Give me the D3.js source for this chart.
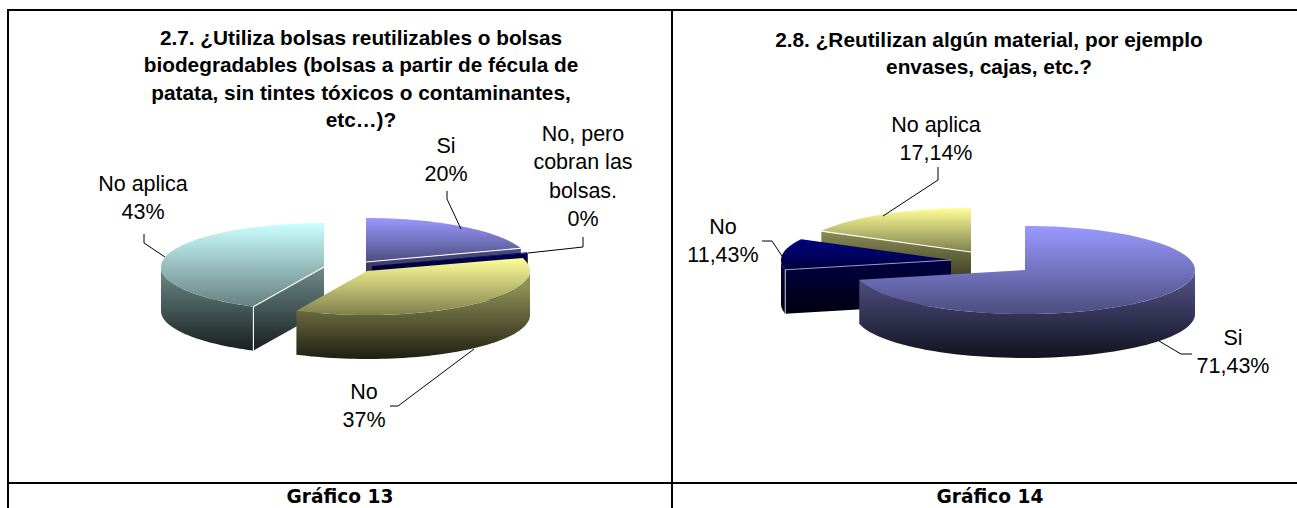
<!DOCTYPE html>
<html><head><meta charset="utf-8">
<script src="https://cdn.jsdelivr.net/npm/d3@7"></script>
<style>html,body{margin:0;padding:0;background:#fff}svg{display:block}</style>
</head><body><svg id="c" width="1297" height="508"></svg>
<script>
// ---- data ----
const categories13 = ["Si", "No, pero cobran las bolsas.", "No", "No aplica"];
const values13 = [20, 0.3, 37, 43];
const displayed13 = ["20%", "0%", "37%", "43%"];
const categories14 = ["Si", "No", "No aplica"];
const values14 = [71.43, 11.43, 17.14];
const displayed14 = ["71,43%", "11,43%", "17,14%"];
const title13 = ["2.7. ¿Utiliza bolsas reutilizables o bolsas","biodegradables (bolsas a partir de fécula de","patata, sin tintes tóxicos o contaminantes,","etc…)?"];
const title14 = ["2.8. ¿Reutilizan algún material, por ejemplo","envases, cajas, etc.?"];
const captions = ["Gráfico 13", "Gráfico 14"];
const colors13 = ["#9999ff", "#000080", "#ffff99", "#ccffff"];
const colors14 = ["#9999ff", "#000080", "#ffff99"];

// ---- layout ----
const svg = d3.select("#c");
const defs = svg.append("defs");
const pie = d3.pie().sort(null).value(d=>d);
let gid = 0;
function grad(color, y0, y1, k0, k1){
  const id = "g"+(gid++);
  const mix = d3.interpolateRgb("#000", color);
  const g = defs.append("linearGradient").attr("id",id).attr("gradientUnits","userSpaceOnUse")
    .attr("x1",0).attr("x2",0).attr("y1",y0).attr("y2",y1);
  g.append("stop").attr("offset",0).attr("stop-color",mix(k0));
  g.append("stop").attr("offset",1).attr("stop-color",mix(k1));
  return `url(#${id})`;
}
function drawPie(values, colors, geom, order){
  const arcs = pie(values);
  const {rx, ry, depth} = geom;
  order.forEach(i=>{
    const a = arcs[i], c = geom.centers[i], col = colors[i];
    const X = t=>c[0]+rx*Math.sin(t), Y = t=>c[1]-ry*Math.cos(t);
    const g = svg.append("g");
    const n=80, facePts=[[c[0],c[1]]].concat(d3.range(n+1).map(k=>{const t=a.startAngle+(a.endAngle-a.startAngle)*k/n;return [X(t),Y(t)];}));
    const minY=d3.min(facePts,d=>d[1]), maxY=d3.max(facePts,d=>d[1]);
    const wallFill = grad(col, minY+(maxY-minY)*0.5, maxY+depth, 0.56, 0.12);
    [[a.startAngle, Math.sin(a.startAngle)<-1e-6],[a.endAngle, Math.sin(a.endAngle)>1e-6]].forEach(([t,vis])=>{
      if(!vis) return;
      const p = d3.path();
      p.moveTo(c[0],c[1]); p.lineTo(X(t),Y(t)); p.lineTo(X(t),Y(t)+depth); p.lineTo(c[0],c[1]+depth); p.closePath();
      g.append("path").attr("d",p.toString()).attr("fill",wallFill);
    });
    const s = Math.max(a.startAngle, Math.PI/2), e = Math.min(a.endAngle, 3*Math.PI/2);
    if(e>s){
      const top=d3.range(61).map(k=>s+(e-s)*k/60);
      const pts=top.map(t=>[X(t),Y(t)]).concat(top.slice().reverse().map(t=>[X(t),Y(t)+depth]));
      g.append("path").attr("d",d3.line()(pts)+"Z").attr("fill",wallFill);
    }
    g.append("path").attr("d",d3.line()(facePts)+"Z").attr("fill",grad(col,minY,maxY,1,0.5));
    (geom.edges[i]||[]).forEach(ed=>{
      const t = ed.t==="start"?a.startAngle:a.endAngle;
      const l = ed.down ? [[X(t),Y(t)],[X(t),Y(t)+depth]] : [[c[0],c[1]],[X(t),Y(t)]];
      g.append("path").attr("d",d3.line()(l)).attr("fill","none").attr("stroke",ed.c||"#fff").attr("stroke-width",ed.w||1.1);
    });
  });
}
const rules=[[8,10,8,508],[672,10,672,508],[7,10,1297,10],[7,483,1297,483]];
svg.selectAll("line.r").data(rules).join("line").attr("x1",d=>d[0]).attr("y1",d=>d[1]).attr("x2",d=>d[2]).attr("y2",d=>d[3]).attr("stroke","#000").attr("stroke-width",2);

drawPie(values13, colors13, {rx:163, ry:44, depth:44,
  centers:[[366,262],[372,266],[367,271],[324,267]],
  edges:[[{t:"end"}],[],[],[{t:"start"},{t:"start",down:true}]]}, [3,0,1,2]);
drawPie(values14, colors14, {rx:170, ry:44, depth:44,
  centers:[[1025,270],[951,260],[971,252]],
  edges:[[],[{t:"start",c:"#9a9ab8",w:1},{t:"start",down:true,c:"#c8c8d8",w:1}],[{t:"start"}]]}, [2,1,0]);

const leaders=[
 [[447,191],[447,199],[461,229]],
 [[583,237],[583,247],[528,253]],
 [[144,234],[144,243],[165,257]],
 [[390,406],[398,406],[474,349]],
 [[938,167],[938,180],[883,216]],
 [[762,241],[772,241],[782,256]],
 [[1192,354],[1181,354],[1159,341]]
];
svg.selectAll("path.l").data(leaders).join("path").attr("d",d=>d3.line()(d)).attr("fill","none").attr("stroke","#000").attr("stroke-width",1);

function block(lines,x,y,lh,font,size,weight){
  const t=svg.append("text").attr("text-anchor","middle").attr("font-family",font).attr("font-size",size).attr("font-weight",weight||"normal").attr("fill","#000");
  lines.forEach((s,i)=>t.append("tspan").attr("x",x).attr("y",y+i*lh).text(s));
}
const AR="'Liberation Sans',Arial,sans-serif", L=21.5, T=20.8;
block(title13,361,45,27.3,AR,T,"bold");
block(title14,989,47,27,AR,T,"bold");
block([categories13[0],displayed13[0]],446,153,28,AR,L);
block(["No, pero","cobran las","bolsas.",displayed13[1]],583,141,28.3,AR,L);
block([categories13[3],displayed13[3]],143,191,28,AR,L);
block([categories13[2],displayed13[2]],364,399,28,AR,L);
block([categories14[2],displayed14[2]],936,132,28,AR,L);
block([categories14[1],displayed14[1]],723,234,28,AR,L);
block([categories14[0],displayed14[0]],1233,345,28,AR,L);
const CF="'DejaVu Sans',Verdana,sans-serif";
block([captions[0]],340,503,0,CF,18.6,"bold");
block([captions[1]],990,503,0,CF,18.6,"bold");
</script></body></html>
